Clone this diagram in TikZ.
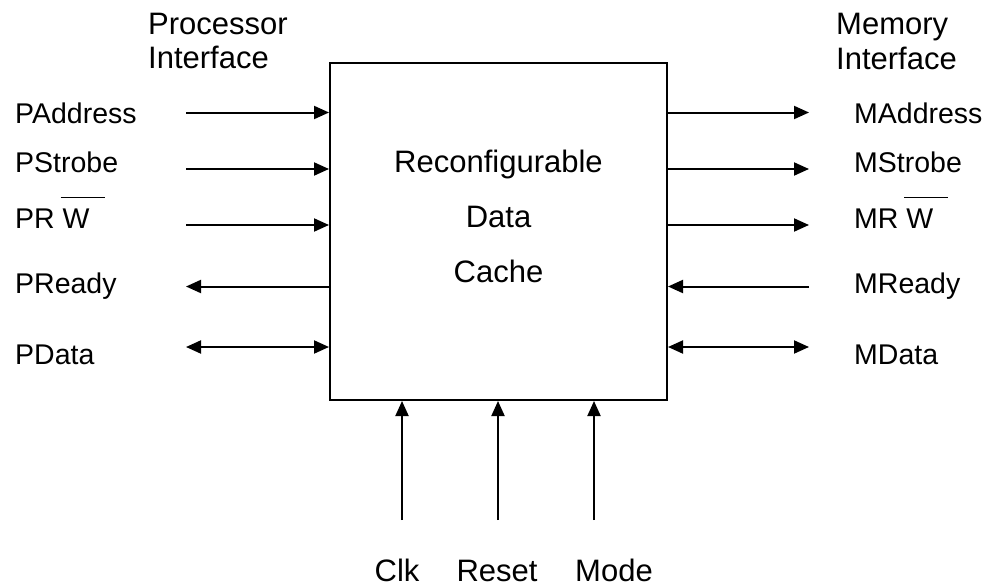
\documentclass[tikz,border=0pt]{standalone}
\usepackage{fontspec}
\setmainfont{Liberation Sans}
\usetikzlibrary{arrows.meta}
% signal name with an overlined W (active-low write)
\newcommand\lowW{\hspace{-2pt}\rlap{\raisebox{30pt}{\rule{44pt}{1.5pt}}}\hspace{2pt}W}
\tikzset{
  sig/.style={line width=2pt, -{Triangle[length=15pt,width=13pt]}},
  bisig/.style={line width=2pt, {Triangle[length=15pt,width=13pt]}-{Triangle[length=15pt,width=13pt]}},
  lbl/.style={anchor=base west, inner sep=0pt, font=\fontsize{28.5}{33}\selectfont},
  big/.style={inner sep=0pt, font=\fontsize{31}{36}\selectfont},
  core/.style={draw, line width=2pt, minimum width=337pt, minimum height=337pt, inner sep=0pt}
}
\begin{document}
\begin{tikzpicture}[x=1pt,y=-1pt]
\path[use as bounding box] (0,0) rectangle (990,586);

% the cache block
\node[core] (cache) at (498.5,231.5) {};
\node[big, anchor=base] (t1) at (498.5,172) {Reconfigurable};
\node[big, anchor=base] (t2) at (498.5,227) {Data};
\node[big, anchor=base] (t3) at (498.5,282) {Cache};

% interface headings
\node[big, anchor=base west] (ph1) at (148,35) {Processor};
\node[big, anchor=base west] (ph2) at (148,68) {Interface};
\node[big, anchor=base west] (mh1) at (836,35) {Memory};
\node[big, anchor=base west] (mh2) at (836,70) {Interface};

% processor side signals
\node[lbl] (pa) at (15,123) {PAddress};
\node[lbl] (ps) at (15,172) {PStrobe};
\node[lbl] (pw) at (15,228) {PR \lowW};
\node[lbl] (pr) at (15,293) {PReady};
\node[lbl] (pd) at (15,364) {PData};

\coordinate (pa0) at (186,112.5);
\coordinate (ps0) at (186,169);
\coordinate (pw0) at (186,225);
\coordinate (pr0) at (186,286.5);
\coordinate (pd0) at (186,347);

\draw[sig] (pa0) -- (pa0 -| cache.west);
\draw[sig] (ps0) -- (ps0 -| cache.west);
\draw[sig] (pw0) -- (pw0 -| cache.west);
\draw[sig] (pr0 -| cache.west) -- (pr0);
\draw[bisig] (pd0) -- (pd0 -| cache.west);

% memory side signals
\node[lbl] (ma) at (854,123) {MAddress};
\node[lbl] (ms) at (854,172) {MStrobe};
\node[lbl] (mw) at (854,228) {MR \lowW};
\node[lbl] (mr) at (854,293) {MReady};
\node[lbl] (md) at (854,364) {MData};

\coordinate (ma0) at (809,112.5);
\coordinate (ms0) at (809,169);
\coordinate (mw0) at (809,225);
\coordinate (mr0) at (809,286.5);
\coordinate (md0) at (809,347);

\draw[sig] (ma0 -| cache.east) -- (ma0);
\draw[sig] (ms0 -| cache.east) -- (ms0);
\draw[sig] (mw0 -| cache.east) -- (mw0);
\draw[sig] (mr0) -- (mr0 -| cache.east);
\draw[bisig] (md0 -| cache.east) -- (md0);

% control inputs
\node[big, anchor=base] (clk) at (397,581) {Clk};
\node[big, anchor=base] (rst) at (497,581) {Reset};
\node[big, anchor=base] (mode) at (614,581) {Mode};

\coordinate (clk0) at (402,520);
\coordinate (rst0) at (498,520);
\coordinate (mode0) at (594,520);

\draw[sig] (clk0) -- (clk0 |- cache.south);
\draw[sig] (rst0) -- (rst0 |- cache.south);
\draw[sig] (mode0) -- (mode0 |- cache.south);
\end{tikzpicture}
\end{document}
